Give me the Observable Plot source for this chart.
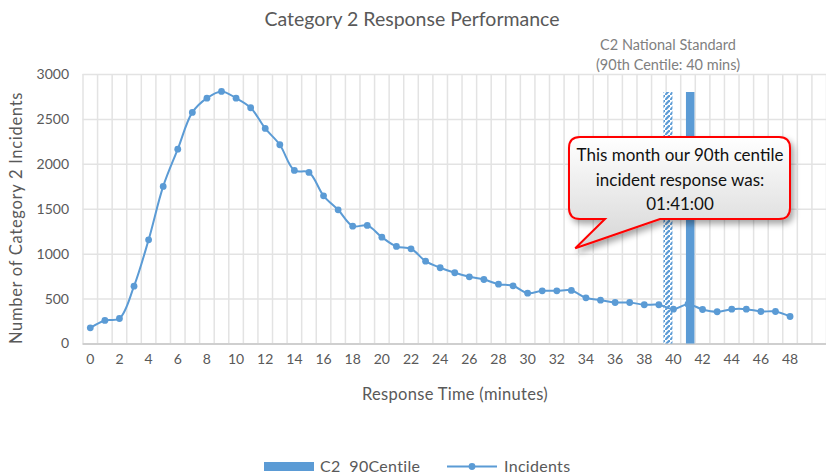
<!DOCTYPE html>
<html><head><meta charset="utf-8">
<script src="https://cdn.jsdelivr.net/npm/d3@7"></script>
<script src="https://cdn.jsdelivr.net/npm/@observablehq/plot@0.6"></script>
<style>
body{margin:0;background:#fff;}
#chart svg{font-family:Lato,"Open Sans",sans-serif;}
</style>
</head><body><div id="chart"></div>
<script>
// ---- data ----
const minutes = [0,1,2,3,4,5,6,7,8,9,10,11,12,13,14,15,16,17,18,19,20,21,22,23,24,25,26,27,28,29,30,31,32,33,34,35,36,37,38,39,40,41,42,43,44,45,46,47,48];
const incidents = [180,262,284,644,1160,1754,2169,2578,2737,2812,2737,2630,2400,2218,1932,1910,1650,1494,1312,1320,1189,1086,1060,922,849,793,748,718,666,648,566,592,592,596,514,488,462,462,437,437,388,443,384,359,388,388,362,362,306];
const standardMinute = [40];      // C2 National Standard (90th centile: 40 mins)
const standardValue = [2800];
const centileMinute = [41];       // C2 90Centile this month
const centileValue = [2800];
const xTicks = [0,2,4,6,8,10,12,14,16,18,20,22,24,26,28,30,32,34,36,38,40,42,44,46,48];
const yTicks = [0,500,1000,1500,2000,2500,3000];
const titleText = "Category 2 Response Performance";
const yLabel = "Number of Category 2 Incidents";
const xLabel = "Response Time (minutes)";
const standardNote = ["C2 National Standard", "(90th Centile: 40 mins)"];
const calloutLines = ["This month our 90th centile", "incident response was:", "01:41:00"];
const legendLabels = ["C2  90Centile", "Incidents"];

const blue = "#5b9bd5", grid = "#e3e3e3", txt = "#595959";
const rows = minutes.map((m, i) => ({minute: m, count: incidents[i]}));
const standardRows = standardMinute.map((m, i) => ({minute: m, value: standardValue[i]}));
const centileRows = centileMinute.map((m, i) => ({minute: m, value: centileValue[i]}));
const gridX = d3.range(-0.5, 51, 1);

const plot = Plot.plot({
  width: 826, height: 476,
  marginTop: 74, marginBottom: 132.5, marginLeft: 82.5, marginRight: 0,
  style: {fontFamily: "Lato, 'Open Sans', sans-serif", fontSize: "14px", color: txt, background: "#fff"},
  x: {domain: [-0.5, 50.5], ticks: xTicks, tickFormat: d => String(d), tickSize: 0, tickPadding: 10, label: null},
  y: {domain: [0, 3000], ticks: yTicks, tickFormat: d => String(d), tickSize: 0, tickPadding: 14, label: null},
  marks: [
    Plot.ruleY(yTicks.filter(d => d > 0), {stroke: grid, strokeWidth: 1.5}),
    Plot.ruleX(gridX, {stroke: grid, strokeWidth: 1.5}),
    Plot.ruleY([0], {stroke: "#cfcfcf", strokeWidth: 2}),
    Plot.ruleX(standardRows, {x: "minute", y1: 0, y2: "value", stroke: "url(#hatch)", strokeWidth: 9, dx: -5.5}),
    Plot.ruleX(centileRows, {x: "minute", y1: 0, y2: "value", stroke: blue, strokeWidth: 8.5, dx: 2.2}),
    Plot.line(rows, {x: "minute", y: "count", curve: "catmull-rom", stroke: blue, strokeWidth: 2}),
    Plot.dot(rows, {x: "minute", y: "count", r: 3.4, fill: blue, stroke: "none"})
  ]
});
document.getElementById("chart").appendChild(plot);

const svg = d3.select(plot);
const sx = plot.scale("x"), sy = plot.scale("y");
const defs = svg.insert("defs", ":first-child");
const pat = defs.append("pattern").attr("id", "hatch").attr("patternUnits", "userSpaceOnUse")
  .attr("width", 5).attr("height", 5);
pat.append("rect").attr("width", 5).attr("height", 5).attr("fill", "#fff");
pat.append("path").attr("d", "M-1,6 L6,-1").attr("stroke", blue).attr("stroke-width", 2.2);
const grad = defs.append("linearGradient").attr("id", "cg").attr("x1", 0).attr("y1", 0).attr("x2", 0).attr("y2", 1);
grad.append("stop").attr("offset", "0%").attr("stop-color", "#ffffff");
grad.append("stop").attr("offset", "100%").attr("stop-color", "#d6d6d6");
const filt = defs.append("filter").attr("id", "shadow").attr("x", "-20%").attr("y", "-20%").attr("width", "150%").attr("height", "160%");
filt.append("feDropShadow").attr("dx", 3).attr("dy", 4).attr("stdDeviation", 3).attr("flood-color", "#000").attr("flood-opacity", 0.35);

const txtG = svg.append("g").attr("text-anchor", "start");
// title
txtG.append("text").attr("x", 412).attr("y", 26).attr("text-anchor", "middle")
  .attr("fill", txt).attr("font-size", 19.5).text(titleText);
// standard note
standardNote.forEach((t, i) => txtG.append("text").attr("x", 668).attr("y", 50 + i * 20)
  .attr("text-anchor", "middle").attr("fill", "#7f7f7f").attr("font-size", 14.5).text(t));
// axis labels
txtG.append("text").attr("transform", "translate(22,218) rotate(-90)").attr("text-anchor", "middle")
  .attr("fill", txt).attr("font-size", 16.5).attr("letter-spacing", 0.7).text(yLabel);
txtG.append("text").attr("x", 455).attr("y", 400).attr("text-anchor", "middle")
  .attr("fill", txt).attr("font-size", 16.5).attr("letter-spacing", 0.3).text(xLabel);

// callout
const bx0 = 569, bx1 = 790, by0 = 137, by1 = 219, r = 11;
const tipX = sx.apply(33.3), tipY = sy.apply(1060);
const tailA = 605, tailB = 660;
const path = `M${bx0 + r},${by0} H${bx1 - r} Q${bx1},${by0} ${bx1},${by0 + r} V${by1 - r} Q${bx1},${by1} ${bx1 - r},${by1}
 H${tailB} L${tipX},${tipY} L${tailA},${by1} H${bx0 + r} Q${bx0},${by1} ${bx0},${by1 - r} V${by0 + r} Q${bx0},${by0} ${bx0 + r},${by0} Z`;
txtG.append("path").attr("d", path).attr("fill", "url(#cg)").attr("stroke", "#ff0000")
  .attr("stroke-width", 2).attr("filter", "url(#shadow)");
calloutLines.forEach((t, i) => txtG.append("text").attr("x", 680).attr("y", 161 + i * 24.5)
  .attr("text-anchor", "middle").attr("fill", "#111").attr("font-size", 17).text(t));

// legend
txtG.append("rect").attr("x", 264).attr("y", 462).attr("width", 50).attr("height", 9).attr("fill", blue);
txtG.append("text").attr("x", 320).attr("y", 472).attr("fill", txt).attr("font-size", 16).attr("letter-spacing", 0.3).text(legendLabels[0]);
txtG.append("line").attr("x1", 447).attr("x2", 497).attr("y1", 466.5).attr("y2", 466.5).attr("stroke", blue).attr("stroke-width", 2);
txtG.append("circle").attr("cx", 472).attr("cy", 466.5).attr("r", 3.4).attr("fill", blue);
txtG.append("text").attr("x", 504).attr("y", 472).attr("fill", txt).attr("font-size", 16).attr("letter-spacing", 0.3).text(legendLabels[1]);
</script>
</body></html>
